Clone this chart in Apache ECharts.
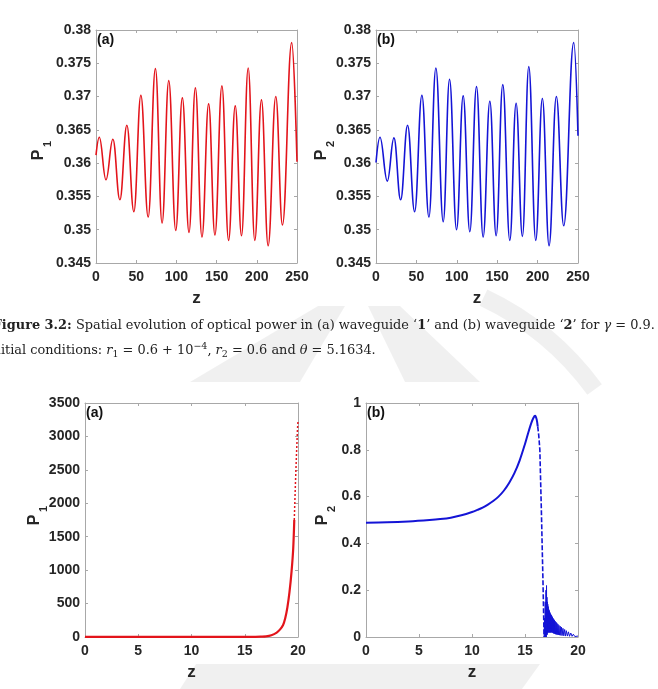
<!DOCTYPE html>
<html>
<head>
<meta charset="utf-8">
<script src="https://cdn.jsdelivr.net/npm/echarts@6/dist/echarts.min.js"></script>
<style>
  html, body { margin: 0; padding: 0; background: #fff; }
  #main { width: 658px; height: 689px; }
</style>
</head>
<body>
<div id="main"></div>
<script>
// --- data ---
// Fig 3.2 (a): P1 extrema along z
const zA = [0, 4.1, 12.4, 21.0, 29.7, 38.4, 47.1, 55.8, 64.9, 73.9, 82.2, 90.5, 99.2, 107.4, 115.7,
  123.6, 131.8, 140.1, 147.9, 156.6, 164.9, 173.2, 181.0, 189.3, 197.5, 205.8, 214.1, 223.6, 231.9, 243.4, 250];
const p1A = [0.3612, 0.3639, 0.3575, 0.3636, 0.3545, 0.3657, 0.3527, 0.3702, 0.3519, 0.3742, 0.3510,
  0.3724, 0.3499, 0.3698, 0.3496, 0.3713, 0.3489, 0.3689, 0.3492, 0.3716, 0.3484, 0.3686, 0.3491,
  0.3743, 0.3484, 0.3695, 0.3476, 0.3700, 0.3507, 0.3781, 0.3602];

// Fig 3.2 (b): P2 extrema along z
const zB = [0, 4.9, 14.0, 22.2, 30.5, 39.1, 47.8, 56.8, 65.5, 74.1, 83.2, 91.0, 99.7, 107.9, 116.1,
  124.4, 132.6, 140.9, 148.7, 156.9, 165.6, 173.4, 181.2, 189.1, 197.7, 205.9, 214.2, 223.2, 232.3, 244.7, 250];
const p2B = [0.3601, 0.3639, 0.3573, 0.3638, 0.3545, 0.3657, 0.3527, 0.3702, 0.3519, 0.3743, 0.3512,
  0.3726, 0.3500, 0.3701, 0.3497, 0.3715, 0.3489, 0.3693, 0.3491, 0.3718, 0.3484, 0.3690, 0.3490,
  0.3745, 0.3484, 0.3697, 0.3476, 0.3700, 0.3506, 0.3781, 0.3641];

// Fig 3.3 (a): P1 blow-up, solid part then the sparse (dotted) top
const zC = [0, 2, 4, 6, 8, 10, 12, 14, 15, 16, 16.5, 17, 17.5, 18, 18.3, 18.6, 18.8, 19, 19.2, 19.4, 19.55, 19.65];
const p1C = [0.4, 0.4, 0.5, 0.6, 0.8, 1, 1.5, 2, 2.5, 3, 4.5, 8, 25, 65, 110, 180, 280, 440, 670, 990, 1320, 1750];
const zD = [19.65, 19.75, 19.85, 19.95, 20];
const p1D = [1750, 2250, 2700, 3100, 3230];

// Fig 3.3 (b): P2 rise, dashed collapse, then the decaying ringing
const zE = [0, 2, 4, 6, 7, 8, 9, 10, 10.5, 11, 11.5, 12, 12.5, 13, 13.5, 14, 14.5, 15, 15.3, 15.6, 15.8, 15.95, 16.1, 16.2];
const p2E = [0.488, 0.49, 0.494, 0.5, 0.504, 0.51, 0.52, 0.534, 0.543, 0.553, 0.566, 0.581, 0.6, 0.625,
  0.658, 0.7, 0.755, 0.825, 0.872, 0.915, 0.937, 0.945, 0.93, 0.9];
const zF = [16.2, 16.3, 16.4, 16.55, 16.7, 16.8];
const p2F = [0.9, 0.86, 0.8, 0.53, 0.23, 0];
const zG = [16.8, 16.84, 16.87, 16.91, 16.94, 16.98, 17.01, 17.03, 17.05, 17.07, 17.09, 17.11, 17.13, 17.15,
  17.17, 17.19, 17.21, 17.23, 17.25, 17.27, 17.29, 17.31, 17.33, 17.35, 17.37, 17.39, 17.41, 17.43, 17.45,
  17.47, 17.5, 17.53, 17.56, 17.59, 17.62, 17.65, 17.68, 17.71, 17.74, 17.77, 17.8, 17.84, 17.88, 17.92,
  17.96, 18.0, 18.05, 18.1, 18.15, 18.2, 18.26, 18.32, 18.38, 18.44, 18.5, 18.58, 18.66, 18.74, 18.82,
  18.9, 19.0, 19.1, 19.2, 19.32, 19.44, 19.56, 19.7, 19.85, 20];
const p2G = [0, 0.08, 0.0, 0.15, 0.0, 0.2, 0.0, 0.22, 0.01, 0.17, 0.01, 0.15, 0.02, 0.14, 0.02, 0.13,
  0.02, 0.12, 0.02, 0.115, 0.02, 0.11, 0.02, 0.105, 0.02, 0.1, 0.02, 0.097, 0.02, 0.094, 0.02, 0.09, 0.02,
  0.085, 0.018, 0.08, 0.016, 0.076, 0.015, 0.072, 0.014, 0.068, 0.012, 0.064, 0.011, 0.06, 0.01, 0.055,
  0.009, 0.05, 0.008, 0.046, 0.007, 0.042, 0.006, 0.037, 0.005, 0.032, 0.004, 0.027, 0.004, 0.022,
  0.003, 0.017, 0.003, 0.012, 0.002, 0.007, 0.004];

const zip = (xs, ys) => xs.map((x, i) => [x, ys[i]]);

const RED = '#e3141b';
const BLUE = '#1414d6';
const AXIS = '#a8a8a8';
const TXT = '#262626';
const SANS = 'Liberation Sans';
const WM = 'rgba(0,0,0,0.06)';

const grids = [
  { left: 96, top: 30, width: 201, height: 233 },
  { left: 376, top: 30, width: 202, height: 233 },
  { left: 85, top: 403, width: 213, height: 234 },
  { left: 366, top: 403, width: 212, height: 234 },
];

const xRanges = [[0, 250, 50], [0, 250, 50], [0, 20, 5], [0, 20, 5]];
const yRanges = [[0.345, 0.38, 0.005], [0.345, 0.38, 0.005], [0, 3500, 500], [0, 1, 0.2]];

const tick = { show: true, inside: true, length: 3, lineStyle: { color: AXIS } };
const line = { show: true, onZero: false, lineStyle: { color: AXIS, width: 1 } };
const label = { fontFamily: SANS, fontWeight: 'bold', fontSize: 14, color: TXT, formatter: v => String(v) };

const xAxes = [];
const yAxes = [];
// main axes (bottom / left)
xRanges.forEach((r, i) => {
  xAxes.push({
    type: 'value', gridIndex: i, min: r[0], max: r[1], interval: r[2],
    axisLine: line, axisTick: tick, splitLine: { show: false },
    axisLabel: Object.assign({ margin: 7 }, label),
    name: 'z', nameLocation: 'middle', nameGap: 27,
    nameTextStyle: { fontFamily: SANS, fontWeight: 'bold', fontSize: 17, color: TXT },
  });
});
yRanges.forEach((r, i) => {
  yAxes.push({
    type: 'value', gridIndex: i, min: r[0], max: r[1], interval: r[2],
    axisLine: line, axisTick: tick, splitLine: { show: false },
    axisLabel: Object.assign({ margin: 5 }, label),
  });
});
// mirrored box axes (top / right), ticks only
xRanges.forEach((r, i) => {
  xAxes.push({
    type: 'value', gridIndex: i, position: 'top', min: r[0], max: r[1], interval: r[2],
    axisLine: line, axisTick: tick, axisLabel: { show: false }, splitLine: { show: false },
  });
});
yRanges.forEach((r, i) => {
  yAxes.push({
    type: 'value', gridIndex: i, position: 'right', min: r[0], max: r[1], interval: r[2],
    axisLine: line, axisTick: tick, axisLabel: { show: false }, splitLine: { show: false },
  });
});

const base = { type: 'line', showSymbol: false, silent: true, animation: false, z: 5 };

const series = [
  Object.assign({}, base, { xAxisIndex: 0, yAxisIndex: 0, data: zip(zA, p1A),
    smooth: 0.42, smoothMonotone: 'x', lineStyle: { color: RED, width: 1.6 } }),
  Object.assign({}, base, { xAxisIndex: 1, yAxisIndex: 1, data: zip(zB, p2B),
    smooth: 0.42, smoothMonotone: 'x', lineStyle: { color: BLUE, width: 1.6 } }),
  Object.assign({}, base, { xAxisIndex: 2, yAxisIndex: 2, data: zip(zC, p1C),
    smooth: 0.3, lineStyle: { color: RED, width: 2.2 } }),
  Object.assign({}, base, { xAxisIndex: 2, yAxisIndex: 2, data: zip(zD, p1D),
    lineStyle: { color: RED, width: 1.5, type: [2, 2] } }),
  Object.assign({}, base, { xAxisIndex: 3, yAxisIndex: 3, data: zip(zE, p2E),
    smooth: 0.3, lineStyle: { color: BLUE, width: 2 } }),
  Object.assign({}, base, { xAxisIndex: 3, yAxisIndex: 3, data: zip(zF, p2F),
    lineStyle: { color: BLUE, width: 1.6, type: [5, 2] } }),
  Object.assign({}, base, { xAxisIndex: 3, yAxisIndex: 3, data: zip(zG, p2G),
    lineStyle: { color: BLUE, width: 1 } }),
];

// panel tags, y-axis names (P with subscript), caption
function tag(txt, x, y) {
  return { type: 'text', left: x, top: y, z: 10,
    style: { text: txt, fontFamily: SANS, fontWeight: 'bold', fontSize: 14, fill: '#111' } };
}
function pName(sub, x, y) {
  return [
    { type: 'text', x: x, y: y, rotation: Math.PI / 2, z: 10,
      style: { text: 'P', fontFamily: SANS, fontWeight: 'bold', fontSize: 16, fill: TXT,
        align: 'center', verticalAlign: 'middle' } },
    { type: 'text', x: x + 9, y: y - 11, rotation: Math.PI / 2, z: 10,
      style: { text: sub, fontFamily: SANS, fontWeight: 'bold', fontSize: 11, fill: TXT,
        align: 'center', verticalAlign: 'middle' } },
  ];
}

const serif = 'DejaVu Serif';
const FS = 12.9;
const tok = (extra) => Object.assign({ fontFamily: serif, fontSize: FS, fill: '#222', lineHeight: 18 }, extra);
const rich = {
  b: tok({ fontWeight: 'bold' }),
  i: tok({ fontStyle: 'italic' }),
  n: tok({}),
  sub: tok({ fontSize: 9.5, lineHeight: 11, verticalAlign: 'bottom' }),
  sup: tok({ fontSize: 9.5, lineHeight: 11, verticalAlign: 'top' }),
};
const caption = [
  { type: 'text', x: -7.3, y: 326, z: 10,
    style: {
      text: '{b|Figure 3.2:}{n| Spatial evolution of optical power in (a) waveguide \u2018}{b|1}{n|\u2019 and (b) waveguide \u2018}{b|2}{n|\u2019 for }{i|\u03b3}{n| = 0.9.}',
      fontFamily: serif, fontSize: FS, fill: '#222', verticalAlign: 'middle', lineHeight: 18, rich: rich,
    } },
  { type: 'text', x: -12.5, y: 351, z: 10,
    style: {
      text: '{n|Initial conditions: }{i|r}{sub|1}{n| = 0.6 + 10}{sup|\u22124}{n|, }{i|r}{sub|2}{n| = 0.6 and }{i|\u03b8}{n| = 5.1634.}',
      fontFamily: serif, fontSize: FS, fill: '#222', verticalAlign: 'middle', lineHeight: 18, rich: rich,
    } },
];

// faint page watermark, only in the strips between the figure images
const watermark = [
  { type: 'polygon', z: -1, shape: { points: [[190, 382], [300, 382], [345, 306], [318, 306]] }, style: { fill: WM } },
  { type: 'polygon', z: -1, shape: { points: [[405, 382], [480, 382], [400, 306], [368, 306]] }, style: { fill: WM } },
  { type: 'arc', z: -1, shape: { cx: 360, cy: 560, r: 290, startAngle: -Math.PI * 0.36, endAngle: -Math.PI * 0.2 },
    style: { stroke: WM, lineWidth: 18, fill: null } },
  { type: 'polygon', z: -1, shape: { points: [[180, 689], [196, 664], [540, 664], [522, 689]] }, style: { fill: WM } },
];

const graphics = [
  ...watermark,
  tag('(a)', 97, 33), tag('(b)', 377, 33), tag('(a)', 86, 406), tag('(b)', 367, 406),
  ...pName('1', 39, 155), ...pName('2', 322, 155), ...pName('1', 35, 520), ...pName('2', 323, 520),
  ...caption,
];

const chart = echarts.init(document.getElementById('main'), null, { renderer: 'canvas' });
chart.setOption({
  backgroundColor: '#fff',
  animation: false,
  grid: grids.map(g => Object.assign({ show: false, containLabel: false }, g)),
  xAxis: xAxes,
  yAxis: yAxes,
  series: series,
  graphic: graphics,
});
</script>
</body>
</html>
